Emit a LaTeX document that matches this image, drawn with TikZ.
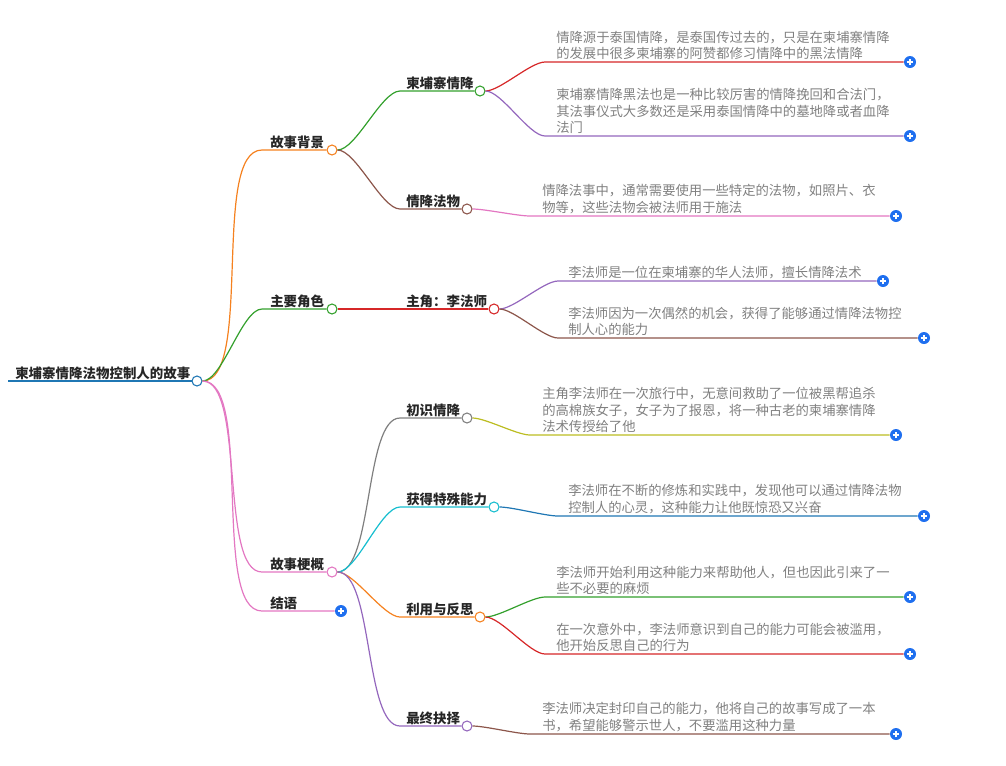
\documentclass[tikz,border=0pt]{standalone}
\usepackage{fontspec}
\setmainfont{Noto Sans CJK SC}
\definecolor{cor}{HTML}{F5811F}
\definecolor{cgr}{HTML}{33A02C}
\definecolor{cpk}{HTML}{E377C2}
\definecolor{crd}{HTML}{D62728}
\definecolor{cpu}{HTML}{9467BD}
\definecolor{cbr}{HTML}{8C564B}
\definecolor{cgy}{HTML}{7F7F7F}
\definecolor{ccy}{HTML}{17BECF}
\definecolor{col}{HTML}{BCBD22}
\definecolor{cbl}{HTML}{1F77B4}
\definecolor{cplus}{HTML}{1F6FEF}
\definecolor{ctx}{HTML}{808080}
\tikzset{
  lab/.style={font=\bfseries\fontsize{10.1pt}{12pt}\selectfont, text=black!85, inner sep=0pt, anchor=base west},
  leaf/.style={font=\fontsize{10pt}{12.4pt}\selectfont, text=ctx, inner sep=0pt, anchor=south west, align=left},
  dot/.style={circle, draw=#1, fill=white, line width=0.8pt, minimum size=7.5pt, inner sep=0pt},
  plusb/.style={circle, fill=cplus, minimum size=9pt, inner sep=0pt, path picture={\draw[white,line width=1pt] (path picture bounding box.center) ++(-2.6pt,0) -- ++(5.2pt,0) (path picture bounding box.center) ++(0,-2.6pt) -- ++(0,5.2pt);}},
  br/.style={line width=0.9pt}
}
\newcommand\conn[4]{\draw[br,#1] (#2) to[out=0,in=180,looseness=0.55] (#3) -- (#4);}
\newcommand\leafx[8]{% name, color, parent, startx, y, plusx, textx, text
  \coordinate (#1s) at (#4,#5);
  \node[plusb] (#1p) at (#6,#5) {};
  \conn{#2}{#3.east}{#1s}{#1p.west}
  \node[leaf] (#1t) at (#7,#5-2) {#8};
}
\begin{document}
\begin{tikzpicture}[x=0.75pt,y=-0.75pt]
\useasboundingbox (0,0) rectangle (1006,765);
% root
\node[lab] (rootT) at (15,378) {柬埔寨情降法物控制人的故事};
\draw[cbl,line width=2.2pt] (8,381) -- (193,381);
\node[dot=cbl] (root) at (197,381) {};
% level 1
\node[lab] (bgT) at (270,147) {故事背景};
\node[dot=cor] (bg) at (332,150) {};
\coordinate (bgs) at (262,150);
\conn{cor}{root.east}{bgs}{bg.west}
\node[lab] (roT) at (270,306) {主要角色};
\node[dot=cgr] (ro) at (332,309) {};
\coordinate (ros) at (262,309);
\conn{cgr}{root.east}{ros}{ro.west}
\node[lab] (suT) at (270,569) {故事梗概};
\node[dot=cpk] (su) at (332,572) {};
\coordinate (sus) at (262,572);
\conn{cpk}{root.east}{sus}{su.west}
\node[lab] (enT) at (270,608) {结语};
\node[plusb] (en) at (341,611) {};
\coordinate (ens) at (262,611);
\conn{cpk}{root.east}{ens}{en.west}
% level 2
\node[lab] (k1T) at (406,88) {柬埔寨情降};
\node[dot=cgr] (k1) at (480,91) {};
\coordinate (k1s) at (400,91);
\conn{cgr}{bg.east}{k1s}{k1.west}
\node[lab] (k2T) at (406,206) {情降法物};
\node[dot=cbr] (k2) at (467,209) {};
\coordinate (k2s) at (400,209);
\conn{cbr}{bg.east}{k2s}{k2.west}
\node[lab] (k3T) at (406,306) {主角：李法师};
\node[dot=crd] (k3) at (494,309) {};
\coordinate (k3s) at (400,309);
\conn{crd}{ro.east}{k3s}{k3.west}
\node[lab] (k4T) at (406,415) {初识情降};
\node[dot=cgy] (k4) at (467,418) {};
\coordinate (k4s) at (400,418);
\conn{cgy}{su.east}{k4s}{k4.west}
\node[lab] (k5T) at (406,504) {获得特殊能力};
\node[dot=ccy] (k5) at (494,507) {};
\coordinate (k5s) at (400,507);
\conn{ccy}{su.east}{k5s}{k5.west}
\node[lab] (k6T) at (406,614) {利用与反思};
\node[dot=cor] (k6) at (480,617) {};
\coordinate (k6s) at (400,617);
\conn{cor}{su.east}{k6s}{k6.west}
\node[lab] (k7T) at (406,723) {最终抉择};
\node[dot=cpu] (k7) at (467,726) {};
\coordinate (k7s) at (400,726);
\conn{cpu}{su.east}{k7s}{k7.west}
% leaves
\leafx{a}{crd}{k1}{545}{62}{910}{556}{情降源于泰国情降，是泰国传过去的，只是在柬埔寨情降\\的发展中很多柬埔寨的阿赞都修习情降中的黑法情降}
\leafx{b}{cpu}{k1}{545}{136}{910}{556}{柬埔寨情降黑法也是一种比较厉害的情降挽回和合法门，\\其法事仪式大多数还是采用泰国情降中的墓地降或者血降\\法门}
\leafx{c}{cpk}{k2}{530}{216}{896}{542}{情降法事中，通常需要使用一些特定的法物，如照片、衣\\物等，这些法物会被法师用于施法}
\leafx{d}{cpu}{k3}{558}{281}{883}{568}{李法师是一位在柬埔寨的华人法师，擅长情降法术}
\leafx{e}{cbr}{k3}{558}{338}{924}{568}{李法师因为一次偶然的机会，获得了能够通过情降法物控\\制人心的能力}
\leafx{f}{col}{k4}{530}{435}{896}{542}{主角李法师在一次旅行中，无意间救助了一位被黑帮追杀\\的高棉族女子，女子为了报恩，将一种古老的柬埔寨情降\\法术传授给了他}
\leafx{g}{cbl}{k5}{558}{516}{924}{568}{李法师在不断的修炼和实践中，发现他可以通过情降法物\\控制人的心灵，这种能力让他既惊恐又兴奋}
\leafx{h}{cgr}{k6}{545}{597}{910}{556}{李法师开始利用这种能力来帮助他人，但也因此引来了一\\些不必要的麻烦}
\leafx{i}{crd}{k6}{545}{654}{910}{556}{在一次意外中，李法师意识到自己的能力可能会被滥用，\\他开始反思自己的行为}
\leafx{j}{cbr}{k7}{530}{734}{896}{542}{李法师决定封印自己的能力，他将自己的故事写成了一本\\书，希望能够警示世人，不要滥用这种力量}
\end{tikzpicture}
\end{document}
